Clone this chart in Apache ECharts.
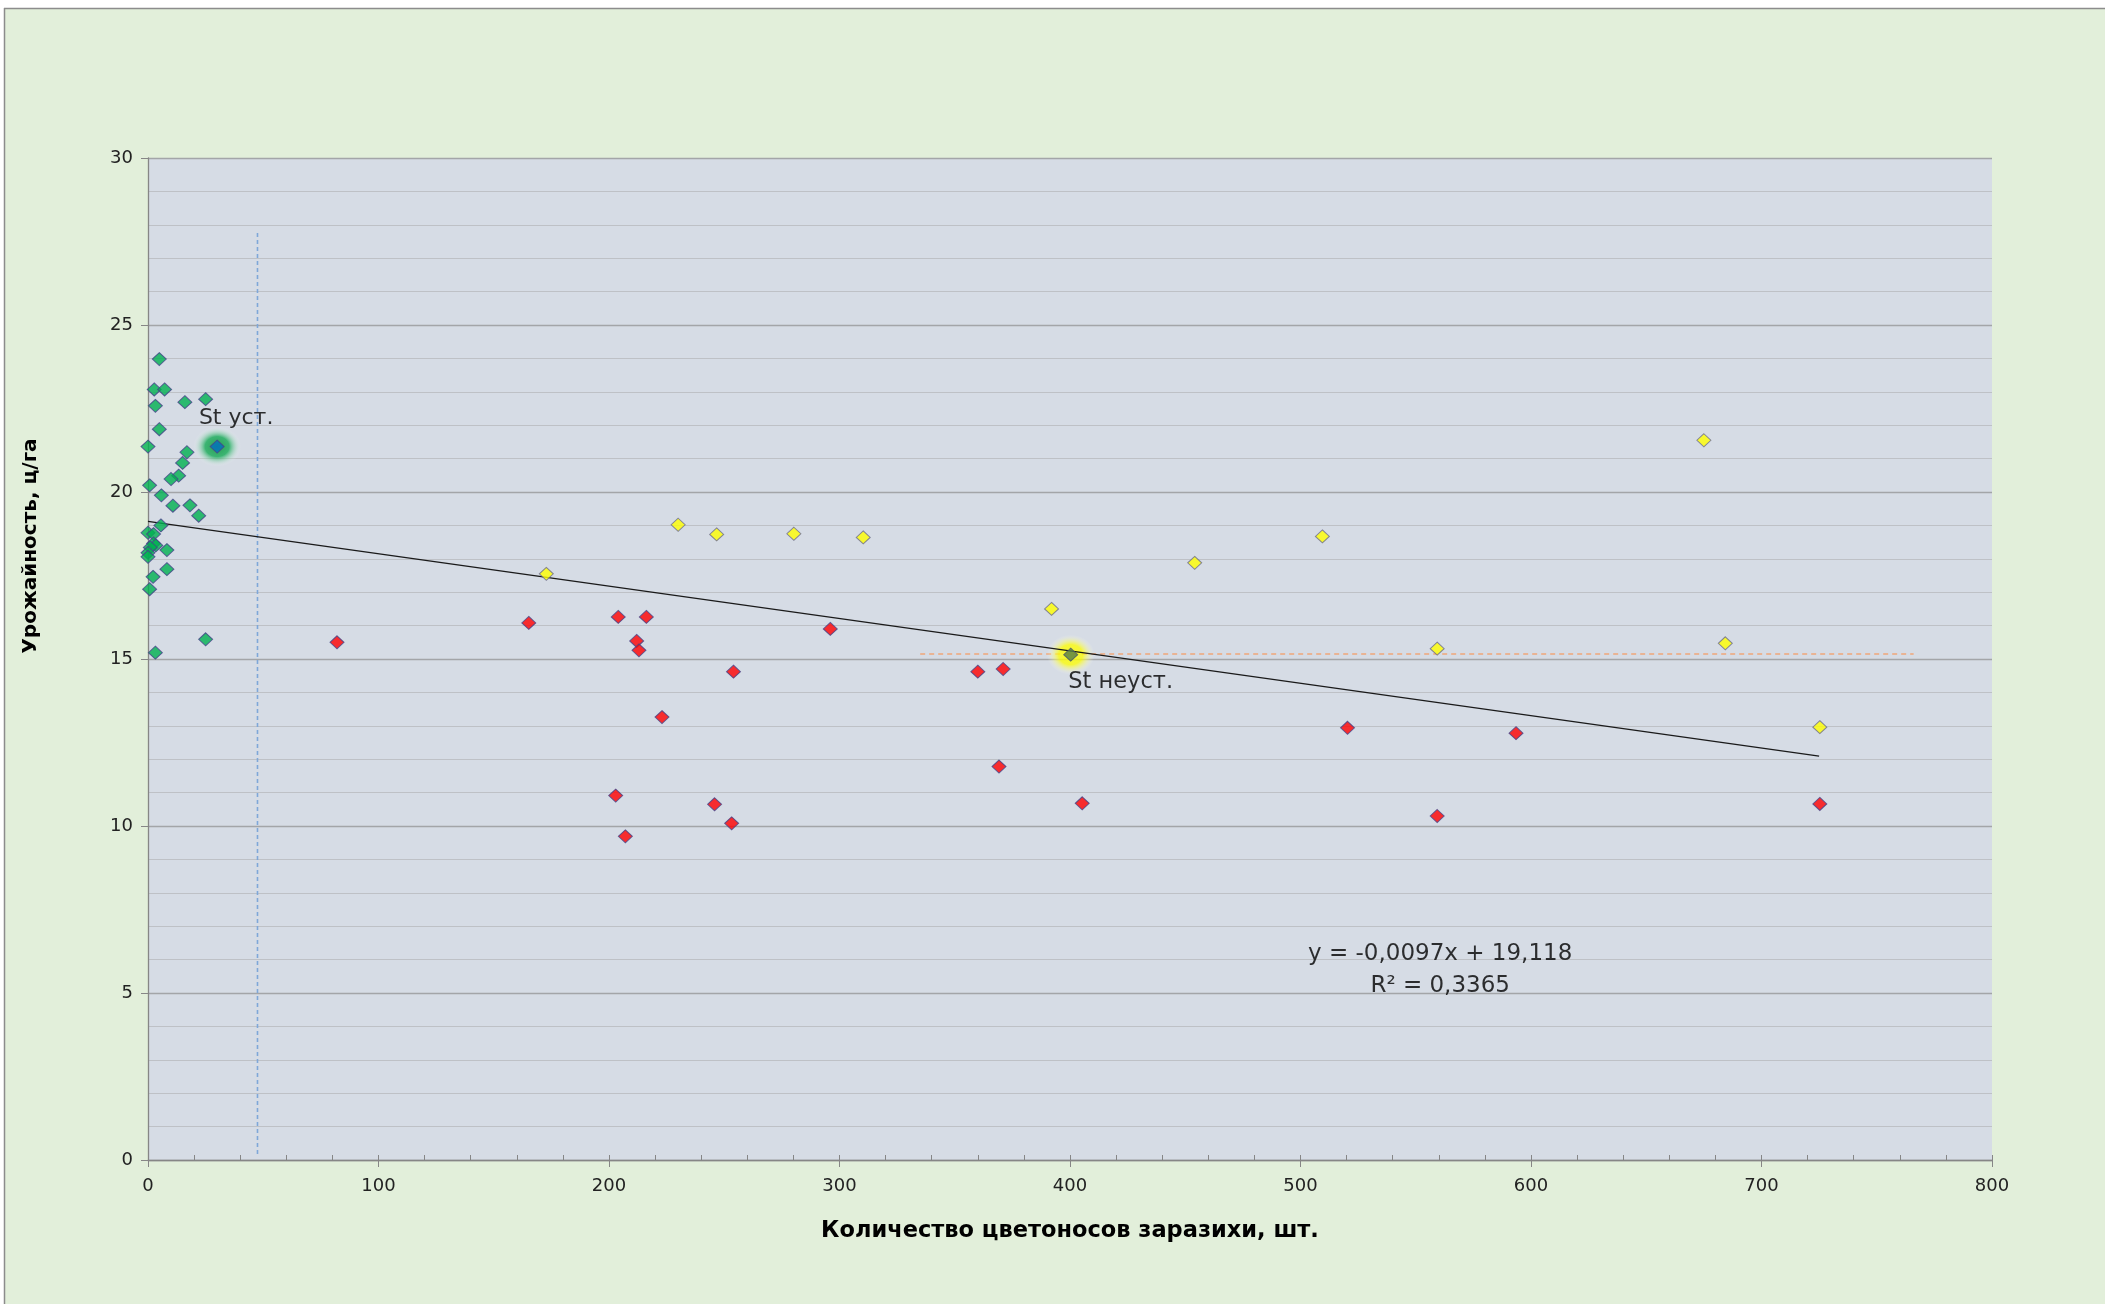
<!DOCTYPE html>
<html>
<head>
<meta charset="utf-8">
<script src="https://cdn.jsdelivr.net/npm/echarts@6/dist/echarts.min.js"></script>
<style>
html,body{margin:0;padding:0;background:#ffffff;}
#chart{width:2105px;height:1304px;}
</style>
</head>
<body>
<div id="chart"></div>
<script>
// ---- data ----
var greenPoints = [[4.9,23.98],[2.7,23.07],[7.2,23.07],[3.2,22.58],[16,22.69],[25,22.78],[4.9,21.88],[0,21.36],[16.9,21.19],[15,20.87],[13.3,20.49],[10,20.39],[0.7,20.2],[5.8,19.9],[10.8,19.59],[18.2,19.6],[22,19.29],[5.6,19.0],[0,18.78],[2.4,18.74],[2.4,18.46],[3.4,18.4],[1,18.34],[8.2,18.26],[0,18.18],[0,18.06],[2.2,17.46],[8.2,17.69],[0.7,17.09],[25,15.59],[3.2,15.19]];
var redPoints = [[82,15.5],[165.2,16.08],[204,16.26],[216.2,16.26],[212,15.54],[213,15.26],[254,14.62],[223,13.26],[296,15.9],[202.9,10.91],[245.8,10.65],[253.2,10.08],[207.1,9.69],[360,14.62],[371,14.7],[369.2,11.78],[405.3,10.68],[520.4,12.94],[593.5,12.78],[559.3,10.3],[725.3,10.66]];
var yellowPoints = [[172.8,17.55],[230,19.02],[246.7,18.73],[280.2,18.75],[310.3,18.64],[392,16.5],[454.1,17.88],[509.5,18.67],[675,21.55],[559.3,15.31],[684.3,15.47],[725.3,12.96]];
var stStable = [[30,21.36]];
var stUnstable = [[400.3,15.13]];
var stLabels = ['St уст.', 'St неуст.'];
var trendLine = [[0,19.12],[725,12.09]];
var verticalRef = [[47.5,0.18],[47.5,27.82]];
var horizontalRef = [[335,15.15],[766,15.15]];
var equationText = [[560.6,6.17,'y = -0,0097x + 19,118'],[560.6,5.2,'R² = 0,3365']];
var xTitle = 'Количество цветоносов заразихи, шт.';
var yTitle = 'Урожайность, ц/га';

var FONT = 'DejaVu Sans';
var markerBorder = '#45458a';

var chart = echarts.init(document.getElementById('chart'), null, {renderer:'canvas'});

function glow(color0, color1){
  return {type:'radial', x:0.5, y:0.5, r:0.5, colorStops:[
    {offset:0, color:color0},{offset:0.5, color:color1},{offset:1, color:'rgba(255,255,255,0)'}]};
}

var option = {
  animation:false,
  backgroundColor:'#E2EFDA',
  grid:{left:148, right:113, top:158, bottom:144, show:true, backgroundColor:'#D6DCE5', borderWidth:0},
  xAxis:[{
    type:'value', min:0, max:800, interval:100,
    name:xTitle, nameLocation:'middle', nameGap:60,
    nameTextStyle:{fontFamily:FONT, fontSize:22.5, fontWeight:'bold', color:'#000'},
    axisLine:{show:true, onZero:false, lineStyle:{color:'#868686', width:1.3}},
    axisTick:{show:true, inside:false, length:7, lineStyle:{color:'#868686'}},
    axisLabel:{fontFamily:FONT, fontSize:18, color:'#222', margin:17},
    splitLine:{show:false}
  },{
    type:'value', min:0, max:800, interval:100, position:'bottom',
    axisLine:{show:false},
    axisTick:{show:true, inside:true, length:5, lineStyle:{color:'#868686'}},
    minorTick:{show:true, splitNumber:5, length:5, lineStyle:{color:'#868686'}},
    axisLabel:{show:false}, splitLine:{show:false}
  }],
  yAxis:{
    type:'value', min:0, max:30, interval:5,
    axisLine:{show:true, onZero:false, lineStyle:{color:'#868686', width:1.3}},
    axisTick:{show:true, inside:false, length:7, lineStyle:{color:'#868686'}},
    axisLabel:{fontFamily:FONT, fontSize:18, color:'#222', margin:15},
    splitLine:{show:true, lineStyle:{color:'#A3A5A8', width:1.3}},
    minorTick:{show:false, splitNumber:5},
    minorSplitLine:{show:true, lineStyle:{color:'#BEC1C6', width:1.2}}
  },
  graphic:[
    {type:'rect', shape:{x:0,y:0,width:2105,height:8}, style:{fill:'#ffffff'}, silent:true},
    {type:'rect', shape:{x:0,y:0,width:4,height:1304}, style:{fill:'#ffffff'}, silent:true},
    {type:'line', shape:{x1:4,y1:8.5,x2:2105,y2:8.5}, style:{stroke:'#8c8c8c', lineWidth:1.5}, silent:true},
    {type:'line', shape:{x1:4.5,y1:8,x2:4.5,y2:1304}, style:{stroke:'#8c8c8c', lineWidth:1.5}, silent:true},
    {type:'text', x:31, y:546, rotation:Math.PI/2,
     style:{text:yTitle, fontFamily:FONT, fontSize:20, fontWeight:'bold', fill:'#000', align:'center', verticalAlign:'middle'}}
  ],
  series:[
    {type:'line', name:'vref', data:verticalRef, symbol:'none', silent:true, z:2,
     lineStyle:{color:'#7FA7D9', width:1.6, type:[4,3]}},
    {type:'line', name:'href', data:horizontalRef, symbol:'none', silent:true, z:2,
     lineStyle:{color:'#F0A77A', width:1.6, type:[5,4]}},
    {type:'scatter', name:'glowStable', data:stStable, symbol:'circle', symbolSize:[48,40], silent:true, z:2,
     itemStyle:{color:glow('rgba(0,140,50,1)','rgba(0,165,70,0.9)')}},
    {type:'scatter', name:'glowUnstable', data:stUnstable, symbol:'circle', symbolSize:[48,40], silent:true, z:2,
     itemStyle:{color:glow('rgba(255,255,0,1)','rgba(255,255,0,0.95)')}},
    {type:'line', name:'trend', data:trendLine, symbol:'none', silent:true, z:3,
     lineStyle:{color:'#1a1a1a', width:1.3}},
    {type:'scatter', name:'green', data:greenPoints, symbol:'diamond', symbolSize:[14,13], z:4,
     itemStyle:{color:'#00B050', borderColor:markerBorder, borderWidth:1}},
    {type:'scatter', name:'red', data:redPoints, symbol:'diamond', symbolSize:[14,13], z:4,
     itemStyle:{color:'#FF0000', borderColor:markerBorder, borderWidth:1}},
    {type:'scatter', name:'yellow', data:yellowPoints, symbol:'diamond', symbolSize:[14,13], z:4,
     itemStyle:{color:'#FFFF00', borderColor:'#6b6b8f', borderWidth:1}},
    {type:'scatter', name:'stStable', data:stStable, symbol:'diamond', symbolSize:[14,13], z:5,
     itemStyle:{color:'#0070C0', borderColor:markerBorder, borderWidth:1},
     label:{show:true, position:'inside', offset:[19,-28], formatter:function(){return stLabels[0];},
       fontFamily:FONT, fontSize:22, color:'#000'}},
    {type:'scatter', name:'stUnstable', data:stUnstable, symbol:'diamond', symbolSize:[14,13], z:5,
     itemStyle:{color:'#567D46', borderColor:'#4a5a6a', borderWidth:1},
     label:{show:true, position:'inside', offset:[50,27], formatter:function(){return stLabels[1];},
       fontFamily:FONT, fontSize:22.5, color:'#000'}},
    {type:'scatter', name:'equation', data:equationText, symbolSize:0, silent:true, z:5,
     label:{show:true, position:'inside', formatter:function(p){return p.value[2];},
       fontFamily:FONT, fontSize:23, color:'#000'}}
  ]
};
chart.setOption(option);
</script>
</body>
</html>
